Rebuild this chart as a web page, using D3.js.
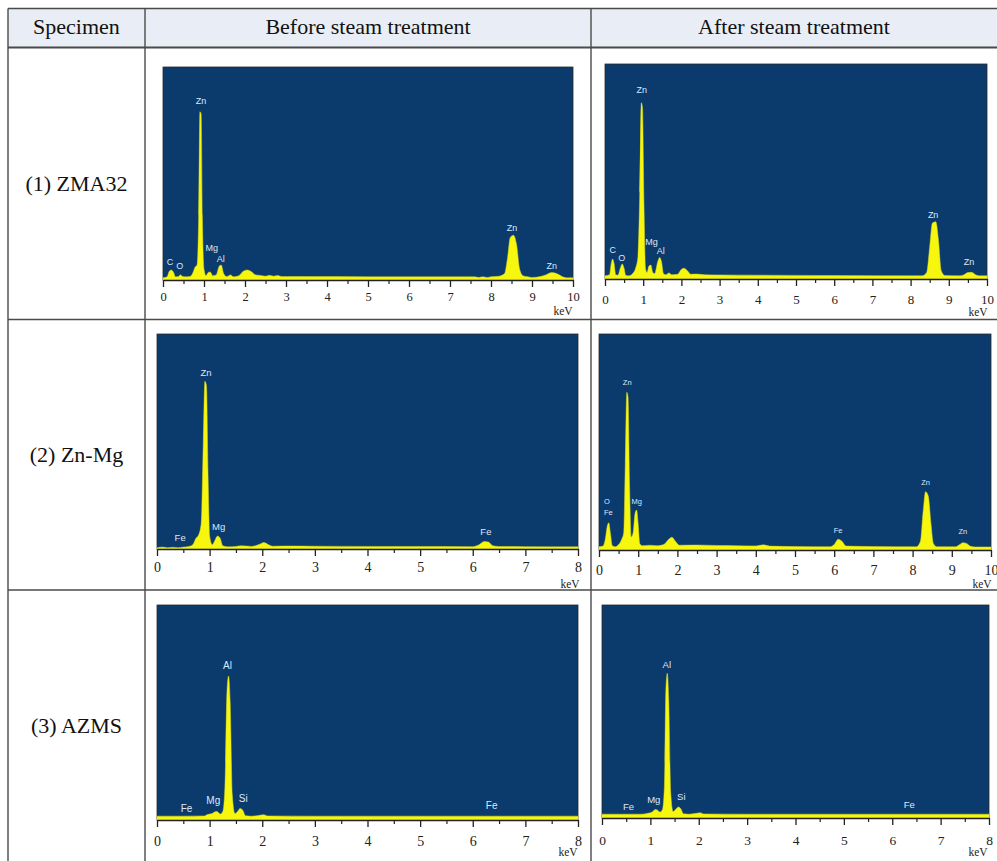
<!DOCTYPE html>
<html>
<head>
<meta charset="utf-8">
<script src="https://cdn.jsdelivr.net/npm/d3@7/dist/d3.min.js"></script>
<style>
  html, body { margin: 0; padding: 0; background: #ffffff; }
  svg { display: block; }
</style>
</head>
<body>
<svg id="chart" width="997" height="861"></svg>
<script>
// ---- Table text ----
const columnHeaders = ["Specimen", "Before steam treatment", "After steam treatment"];
const specimens = ["(1) ZMA32", "(2) Zn-Mg", "(3) AZMS"];

// ---- Axis ticks (keV) ----
const ticks10 = [0, 1, 2, 3, 4, 5, 6, 7, 8, 9, 10];
const ticks8 = [0, 1, 2, 3, 4, 5, 6, 7, 8];
const axisUnit = "keV";

// ---- EDS spectra: [energy keV, relative counts %] outline vertices ----
const zma32Before = [
  [0, 1], [0.1, 1.5], [0.15, 4], [0.2, 4.7], [0.26, 3.5], [0.3, 1.5], [0.38, 1.6], [0.42, 2.5],
  [0.47, 1.8], [0.55, 1.5], [0.65, 1.6], [0.72, 3], [0.78, 6], [0.83, 7], [0.87, 30], [0.9, 79],
  [0.93, 78], [0.96, 30], [1.0, 5], [1.05, 2], [1.1, 3.5], [1.15, 3.8], [1.22, 2], [1.3, 2.5],
  [1.37, 6.5], [1.42, 7], [1.48, 3], [1.55, 1.6], [1.65, 2.4], [1.72, 1.5], [1.85, 2], [1.95, 4],
  [2.05, 4.7], [2.15, 4], [2.25, 2.5], [2.35, 2.2], [2.5, 1.8], [2.6, 2.2], [2.7, 1.8], [2.8, 2.1],
  [2.9, 1.6], [3.5, 1.6], [5, 1.5], [7.6, 1.5], [7.7, 1.2], [7.8, 1.5], [7.9, 1.2], [8.0, 1.5],
  [8.2, 1.8], [8.33, 3], [8.4, 10], [8.47, 20], [8.55, 21], [8.62, 17], [8.7, 5], [8.78, 2],
  [8.9, 1.5], [9.0, 1.2], [9.2, 1.6], [9.35, 2.5], [9.48, 3.5], [9.6, 3], [9.75, 1.5], [9.85, 1], [10, 1]
];
const zma32After = [
  [0, 1.5], [0.12, 2], [0.16, 7], [0.2, 9.3], [0.24, 7], [0.28, 2], [0.34, 1.8], [0.4, 5],
  [0.45, 7], [0.5, 5], [0.54, 1.8], [0.62, 1.5], [0.72, 2.5], [0.8, 5], [0.86, 10], [0.91, 40],
  [0.95, 82], [0.98, 80], [1.02, 35], [1.06, 5], [1.1, 3], [1.15, 6], [1.2, 6.5], [1.25, 3],
  [1.3, 2.5], [1.38, 8], [1.43, 10], [1.48, 8], [1.53, 2.5], [1.6, 2], [1.67, 2.8], [1.75, 2],
  [1.9, 2.2], [2.0, 4.5], [2.07, 5], [2.15, 4], [2.25, 2.2], [2.4, 2.3], [2.6, 2], [3, 1.9],
  [4, 1.8], [6, 1.6], [8.3, 1.5], [8.42, 3], [8.5, 15], [8.57, 26], [8.66, 26.6], [8.73, 18],
  [8.8, 4], [8.9, 1.6], [9.3, 1.5], [9.4, 2], [9.5, 3], [9.6, 3.1], [9.7, 2], [9.8, 1.5], [10, 1.5]
];
const znMgBefore = [
  [0, 0.6], [0.1, 0.9], [0.2, 0.6], [0.3, 0.8], [0.4, 0.6], [0.5, 0.9], [0.6, 1.2], [0.68, 2],
  [0.74, 5], [0.79, 6.5], [0.84, 12], [0.88, 50], [0.91, 78], [0.94, 76], [0.97, 35], [1.0, 6],
  [1.05, 2], [1.1, 4], [1.15, 6], [1.2, 5], [1.25, 1.5], [1.35, 1], [1.5, 1.2], [1.6, 1.5],
  [1.8, 1.2], [1.95, 2.2], [2.03, 3], [2.12, 2], [2.2, 1.3], [2.5, 1.4], [3, 1.3], [4, 1.2],
  [5, 1.2], [6, 1.1], [6.12, 2], [6.22, 3.5], [6.3, 3.2], [6.38, 1.5], [6.5, 1.2], [7, 1.1],
  [7.5, 1], [8, 1]
];
const znMgAfter = [
  [0, 1.5], [0.1, 1.8], [0.16, 5], [0.21, 11], [0.25, 12.6], [0.29, 8], [0.34, 2], [0.42, 1.5],
  [0.5, 2.5], [0.58, 5], [0.63, 8], [0.67, 40], [0.71, 73], [0.74, 71], [0.78, 30], [0.82, 6],
  [0.87, 8], [0.92, 17], [0.96, 18.5], [1.0, 12], [1.04, 3], [1.1, 2], [1.3, 2.2], [1.5, 2],
  [1.65, 2.5], [1.78, 5], [1.86, 5.9], [1.95, 4], [2.05, 2.2], [2.5, 2.3], [3, 2.1], [3.5, 2],
  [4, 1.9], [4.2, 2.4], [4.35, 1.8], [5, 1.6], [5.9, 1.5], [6.0, 2.5], [6.1, 5], [6.2, 4],
  [6.3, 1.8], [7, 1.6], [8.1, 1.5], [8.2, 4], [8.27, 18], [8.33, 27], [8.4, 25], [8.47, 12],
  [8.53, 3], [8.62, 1.5], [9.1, 1.5], [9.2, 2.5], [9.28, 3.4], [9.38, 3], [9.48, 1.7], [9.6, 1.4], [10, 1.4]
];
const azmsBefore = [
  [0, 1.8], [0.5, 1.8], [0.9, 1.9], [0.95, 2.5], [1.05, 3], [1.1, 3.8], [1.14, 3.9], [1.2, 2.8],
  [1.25, 4], [1.29, 15], [1.33, 60], [1.36, 67], [1.39, 55], [1.43, 12], [1.48, 3], [1.53, 4],
  [1.58, 5.4], [1.63, 4.5], [1.68, 2], [1.8, 1.8], [1.95, 2.2], [2.03, 2.5], [2.1, 1.9], [3, 1.8],
  [5, 1.8], [8, 1.8]
];
const azmsAfter = [
  [0, 1.8], [0.8, 1.8], [0.95, 2.2], [1.05, 3], [1.1, 4], [1.14, 3.8], [1.2, 2.8], [1.25, 4],
  [1.29, 15], [1.32, 60], [1.35, 68], [1.38, 55], [1.42, 12], [1.47, 3], [1.52, 4], [1.58, 5.2],
  [1.63, 4.3], [1.68, 2], [1.8, 1.8], [1.95, 2.2], [2.03, 2.5], [2.1, 1.9], [3, 1.8], [8, 1.8]
];

// ---- Element labels: [element, energy keV, counts %] ----
const zma32BeforeLabels = [["C", 0.17, 8], ["O", 0.41, 6.1], ["Zn", 0.93, 83.6], ["Mg", 1.19, 14.5],
  ["Al", 1.41, 9.4], ["Zn", 8.51, 23.9], ["Zn", 9.48, 6.2]];
const zma32AfterLabels = [["C", 0.2, 13], ["O", 0.44, 9.3], ["Zn", 0.96, 87.4], ["Mg", 1.22, 16.9],
  ["Al", 1.46, 12.7], ["Zn", 8.59, 29.3], ["Zn", 9.53, 7.4]];
const znMgBeforeLabels = [["Fe", 0.44, 4.8], ["Zn", 0.93, 81.7], ["Mg", 1.17, 10.2], ["Fe", 6.25, 7.9]];
const znMgAfterLabels = [["O", 0.2, 22.4], ["Fe", 0.24, 17], ["Zn", 0.72, 77.5], ["Mg", 0.96, 22.4],
  ["Fe", 6.1, 8.9], ["Zn", 8.33, 30.9], ["Zn", 9.28, 8.2]];
const azmsBeforeLabels = [["Fe", 0.56, 5], ["Mg", 1.07, 8.5], ["Al", 1.34, 71.3], ["Si", 1.64, 9.6], ["Fe", 6.36, 6.2]];
const azmsAfterLabels = [["Fe", 0.55, 4.9], ["Mg", 1.07, 8.3], ["Al", 1.34, 71.8], ["Si", 1.64, 9.6], ["Fe", 6.35, 6]];

// ---- Layout ----
const W = 997, H = 861;
const tableLeft = 8, colX = [8, 145, 591], rowY = [8.5, 47.5, 319.5, 590, 861];
const lineColor = "#4a4a4a";

const panels = [
  { data: zma32Before, labels: zma32BeforeLabels, ticks: ticks10, l: 163, r: 573, t: 67, b: 280,
    tickFont: 12.5, pad: 5.3, labelFont: 9, unitX: 563, unitY: 312 },
  { data: zma32After, labels: zma32AfterLabels, ticks: ticks10, l: 605, r: 987, t: 64, b: 279,
    tickFont: 13, pad: 9, labelFont: 9, unitX: 978, unitY: 313 },
  { data: znMgBefore, labels: znMgBeforeLabels, ticks: ticks8, l: 157, r: 578, t: 334, b: 549,
    tickFont: 14, pad: 6.4, labelFont: 9.5, unitX: 570, unitY: 585 },
  { data: znMgAfter, labels: znMgAfterLabels, ticks: ticks10, l: 599, r: 991, t: 334, b: 550,
    tickFont: 14, pad: 7.7, labelFont: 7.5, unitX: 982, unitY: 585 },
  { data: azmsBefore, labels: azmsBeforeLabels, ticks: ticks8, l: 157, r: 578, t: 605, b: 820,
    tickFont: 14, pad: 8.7, labelFont: 10, unitX: 568, unitY: 853 },
  { data: azmsAfter, labels: azmsAfterLabels, ticks: ticks8, l: 602, r: 989, t: 605, b: 818,
    tickFont: 13.5, pad: 10.2, labelFont: 9.5, unitX: 978, unitY: 853 }
];

const svg = d3.select("#chart");
const serif = "'Liberation Serif', 'Times New Roman', serif";
const sans = "'Liberation Sans', Arial, sans-serif";

// header band
svg.append("rect").attr("x", tableLeft).attr("y", rowY[0])
  .attr("width", W - tableLeft).attr("height", rowY[1] - rowY[0]).attr("fill", "#e9edf5");

// header text
const headerCenters = [(colX[0] + colX[1]) / 2, (colX[1] + colX[2]) / 2, (colX[2] + W) / 2];
svg.selectAll("text.header").data(columnHeaders).join("text")
  .attr("class", "header")
  .attr("x", (d, i) => headerCenters[i]).attr("y", (rowY[0] + rowY[1]) / 2 + 1)
  .attr("text-anchor", "middle").attr("dominant-baseline", "middle")
  .attr("font-family", serif).attr("font-size", 22).attr("fill", "#111")
  .text(d => d);

// specimen names
svg.selectAll("text.specimen").data(specimens).join("text")
  .attr("class", "specimen")
  .attr("x", headerCenters[0]).attr("y", (d, i) => (rowY[i + 1] + rowY[i + 2]) / 2 + 2)
  .attr("text-anchor", "middle").attr("dominant-baseline", "middle")
  .attr("font-family", serif).attr("font-size", 22).attr("fill", "#111")
  .text(d => d);

// spectra
panels.forEach(p => {
  const xMax = p.ticks[p.ticks.length - 1];
  const x = d3.scaleLinear().domain([0, xMax]).range([p.l, p.r]);
  const y = d3.scaleLinear().domain([0, 100]).range([p.b, p.t]);
  const g = svg.append("g");

  g.append("rect").attr("x", p.l).attr("y", p.t)
    .attr("width", p.r - p.l).attr("height", p.b - p.t)
    .attr("fill", "#0b3a6d").attr("stroke", "#2a2a2a").attr("stroke-width", 0.8);

  const area = d3.area().x(d => x(d[0])).y0(y(0)).y1(d => y(d[1])).curve(d3.curveMonotoneX);
  g.append("path").datum(p.data).attr("d", area)
    .attr("fill", "#f6f60e").attr("stroke", "#d8d820").attr("stroke-width", 0.5);

  g.selectAll("text.el").data(p.labels).join("text")
    .attr("class", "el")
    .attr("x", d => x(d[1])).attr("y", d => y(d[2]))
    .attr("text-anchor", "middle").attr("dominant-baseline", "middle")
    .attr("font-family", sans).attr("font-size", p.labelFont).attr("fill", "#dce8f8")
    .text(d => d[0]);

  // minor ticks at half-keV steps
  const halves = d3.range(0.5, xMax, 1);
  const minor = g.append("g").attr("transform", `translate(0,${p.b})`)
    .call(d3.axisBottom(x).tickValues(halves).tickSize(4).tickFormat(""));
  minor.select(".domain").remove();
  minor.selectAll("line").attr("stroke", "#222").attr("stroke-width", 1.2);

  const major = g.append("g").attr("transform", `translate(0,${p.b})`)
    .call(d3.axisBottom(x).tickValues(p.ticks).tickSize(7).tickSizeOuter(0)
      .tickPadding(p.pad).tickFormat(d3.format("d")));
  major.select(".domain").attr("stroke", "#222").attr("stroke-width", 1.4);
  major.selectAll("line").attr("stroke", "#222").attr("stroke-width", 1.3);
  major.selectAll("text").attr("font-family", serif).attr("font-size", p.tickFont).attr("fill", "#222");

  g.append("text").attr("x", p.unitX).attr("y", p.unitY)
    .attr("text-anchor", "middle").attr("dominant-baseline", "middle")
    .attr("font-family", serif).attr("font-size", 11.5).attr("fill", "#222")
    .text(axisUnit);
});

// table rules
svg.selectAll("line.hrule").data(rowY.slice(0, 4)).join("line")
  .attr("class", "hrule")
  .attr("x1", tableLeft).attr("x2", W).attr("y1", d => d).attr("y2", d => d)
  .attr("stroke", lineColor).attr("stroke-width", (d, i) => i === 1 ? 1.8 : 1.4);
svg.selectAll("line.vrule").data(colX).join("line")
  .attr("class", "vrule")
  .attr("x1", d => d).attr("x2", d => d).attr("y1", rowY[0]).attr("y2", H)
  .attr("stroke", lineColor).attr("stroke-width", 1.4);
</script>
</body>
</html>
